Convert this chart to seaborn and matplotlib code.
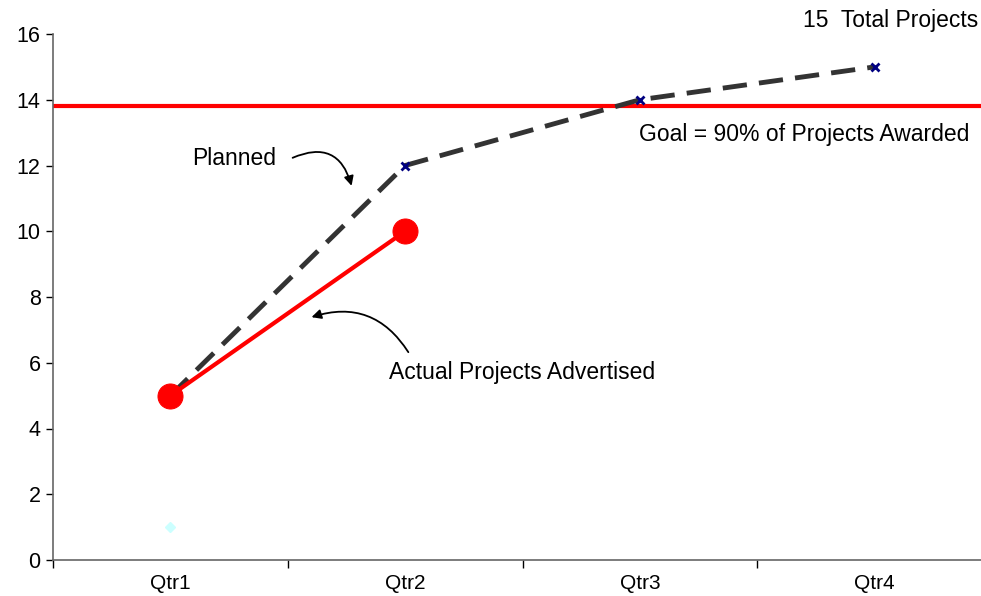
import numpy as np
import pandas as pd
import matplotlib
matplotlib.use("Agg")
import matplotlib.pyplot as plt
import seaborn as sns

# ==========================================
# DATA
# ==========================================
quarters = ["Qtr1", "Qtr2", "Qtr3", "Qtr4"]
planned = [5, 12, 14, 15]
actual = [5, 10]
baseline = [1]
goal = 13.8
total_projects = 15

sns.set_style("white")
plt.rcParams['font.family'] = ['Liberation Sans', 'DejaVu Sans']
plt.rcParams['text.color'] = 'black'

fig = plt.figure(figsize=(9.81, 5.96), dpi=100)
ax = fig.add_axes([53 / 981, 36 / 596, 939 / 981, 526 / 596])

df_plan = pd.DataFrame({'x': np.arange(len(planned)), 'y': planned})
df_act = pd.DataFrame({'x': np.arange(len(actual)), 'y': actual})
df_base = pd.DataFrame({'x': np.arange(len(baseline)), 'y': baseline})

# ligne objectif
ax.axhline(goal, color='#ff0000', lw=3, zorder=1)

# planifié (pointillés)
sns.lineplot(data=df_plan, x='x', y='y', ax=ax, color='#333333', lw=3.5,
             dashes=False, zorder=2)
ax.lines[-1].set_dashes((5, 2.5))
ax.plot(df_plan['x'][1:], df_plan['y'][1:], ls='none', marker='x',
        color='#000080', ms=6, mew=2, zorder=3)

# réel
sns.lineplot(data=df_act, x='x', y='y', ax=ax, color='#ff0000', lw=3,
             marker='o', markersize=18, markeredgecolor='#ff0000', zorder=4)

# point cyan
ax.plot(df_base['x'], df_base['y'], ls='none', marker='D', ms=5,
        color='#ccffff', zorder=3)

ax.set_xlim(-0.5, 3.5)
ax.set_ylim(0, 16)
ax.set_yticks(range(0, 17, 2))
ax.set_xticks(range(len(quarters)))
ax.set_xticklabels(quarters)
ax.set_xticks(np.arange(-0.5, 3.6, 1), minor=True)
ax.tick_params(bottom=True, left=True, which='both')
ax.tick_params(axis='x', which='major', length=0, pad=10, labelsize=15, labelcolor='black')
ax.tick_params(axis='x', which='minor', length=6, width=1, color='#000000', direction='out')
ax.tick_params(axis='y', length=5, width=1, color='#000000', direction='out',
               labelsize=15.5, labelcolor='black', pad=4)
ax.set_xlabel('')
ax.set_ylabel('')
for s in ['top', 'right']:
    ax.spines[s].set_visible(False)
for s in ['left', 'bottom']:
    ax.spines[s].set_color('#666666')
    ax.spines[s].set_linewidth(1.2)

# textes
fs = 16.5
ax.text(0.27, 12.2, "Planned", fontsize=fs, ha='center', va='center')
ax.text(1.5, 5.7, "Actual Projects Advertised", fontsize=fs, ha='center', va='center')
ax.text(2.7, 12.95, "Goal = 90% of Projects Awarded", fontsize=fs, ha='center', va='center')
fig.text(978 / 981, 1 - 20 / 596, f"{total_projects}  Total Projects", fontsize=fs,
         ha='right', va='center')

# flèches
ax.annotate("", xy=(0.775, 11.3), xytext=(0.51, 12.2),
            arrowprops=dict(arrowstyle='-|>', color='black', lw=1.3,
                            connectionstyle='arc3,rad=-0.6', mutation_scale=14))
ax.annotate("", xy=(0.59, 7.36), xytext=(1.02, 6.25),
            arrowprops=dict(arrowstyle='-|>', color='black', lw=1.3,
                            connectionstyle='arc3,rad=0.4', mutation_scale=14))

fig.savefig("out.png", dpi=100)
